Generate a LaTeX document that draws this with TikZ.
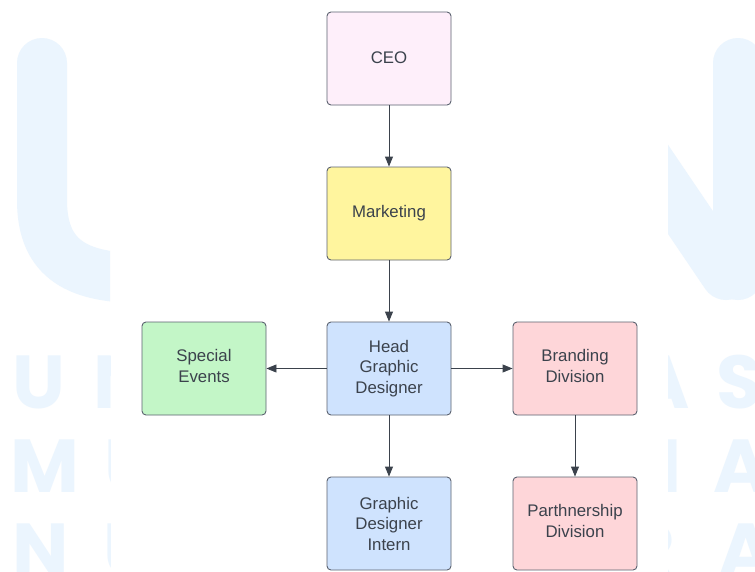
\documentclass[tikz,border=0pt]{standalone}
\usepackage{fontspec}
\setmainfont{Liberation Sans}
\newfontfamily\wmfont{Poppins}
\usetikzlibrary{arrows.meta}
\definecolor{txt}{HTML}{3B424C}
\definecolor{bord}{HTML}{5B6270}
\definecolor{wm}{HTML}{EBF5FE}
\definecolor{fceo}{HTML}{FEEFFA}
\definecolor{fmkt}{HTML}{FFF59E}
\definecolor{fblue}{HTML}{CFE3FE}
\definecolor{fgreen}{HTML}{C3F6C7}
\definecolor{fred}{HTML}{FED6D9}
\newcommand{\lift}[1]{\rule[-#1]{0pt}{0pt}}
\tikzset{
  box/.style={draw=bord, line width=0.9pt, rounded corners=4pt, minimum width=124pt, minimum height=93pt,
    inner sep=2pt, align=center, text=txt, font=\fontsize{16.8}{20.5}\selectfont},
  conn/.style={draw=txt, line width=0.9pt, -{Triangle[length=10pt,width=8pt]}},
  wmletter/.style={anchor=base west, inner sep=0pt, text=wm, font=\wmfont\bfseries\fontsize{75}{75}\selectfont}
}
\begin{document}
\begin{tikzpicture}[x=1pt,y=-1pt]
\useasboundingbox (0,0) rectangle (755,571);
\fill[white] (0,0) rectangle (755,571);
% watermark
\begin{scope}
\clip (0,0) rectangle (110,571) (668,0) rectangle (755,571);
\draw[wm, line width=50pt, line cap=round] (42,63) -- (42,200) .. controls (42,255) and (72,278) .. (140,278);
\draw[wm, line width=50pt, line cap=round] (738,63) -- (738,275);
\draw[wm, line width=50pt, line cap=round] (640,148) -- (726,275);
\node[wmletter] (w1) at (12,408) {U};
\node[wmletter] (w2) at (93,408) {N};
\node[wmletter] (w3) at (10,492) {M};
\node[wmletter] (w4) at (104,492) {U};
\node[wmletter] (w5) at (12,576) {N};
\node[wmletter] (w6) at (103,576) {U};
\node[wmletter] (w7) at (634,408) {A};
\node[wmletter] (w8) at (716,408) {S};
\node[wmletter] (w9) at (659,492) {I};
\node[wmletter] (w10) at (713,492) {A};
\node[wmletter] (w11) at (626,576) {R};
\node[wmletter] (w12) at (718,576) {A};
\end{scope}
% diagram
\node[box, fill=fceo] (ceo) at (389,58.5) {CEO\lift{2pt}};
\node[box, fill=fmkt] (mkt) at (389,213.5) {Marketing};
\node[box, fill=fblue] (head) at (389,368.5) {Head\\Graphic\\Designer};
\node[box, fill=fgreen] (spec) at (204,368.5) {Special\\Events\lift{5pt}};
\node[box, fill=fred] (brand) at (575,368.5) {Branding\\Division\lift{5pt}};
\node[box, fill=fblue] (intern) at (389,523.5) {Graphic\\Designer\\Intern};
\node[box, fill=fred] (part) at (575,523.5) {Parthnership\\Division\lift{5pt}};
\draw[conn] (ceo) -- (mkt);
\draw[conn] (mkt) -- (head);
\draw[conn] (head) -- (spec);
\draw[conn] (head) -- (brand);
\draw[conn] (head) -- (intern);
\draw[conn] (brand) -- (part);
\end{tikzpicture}
\end{document}
